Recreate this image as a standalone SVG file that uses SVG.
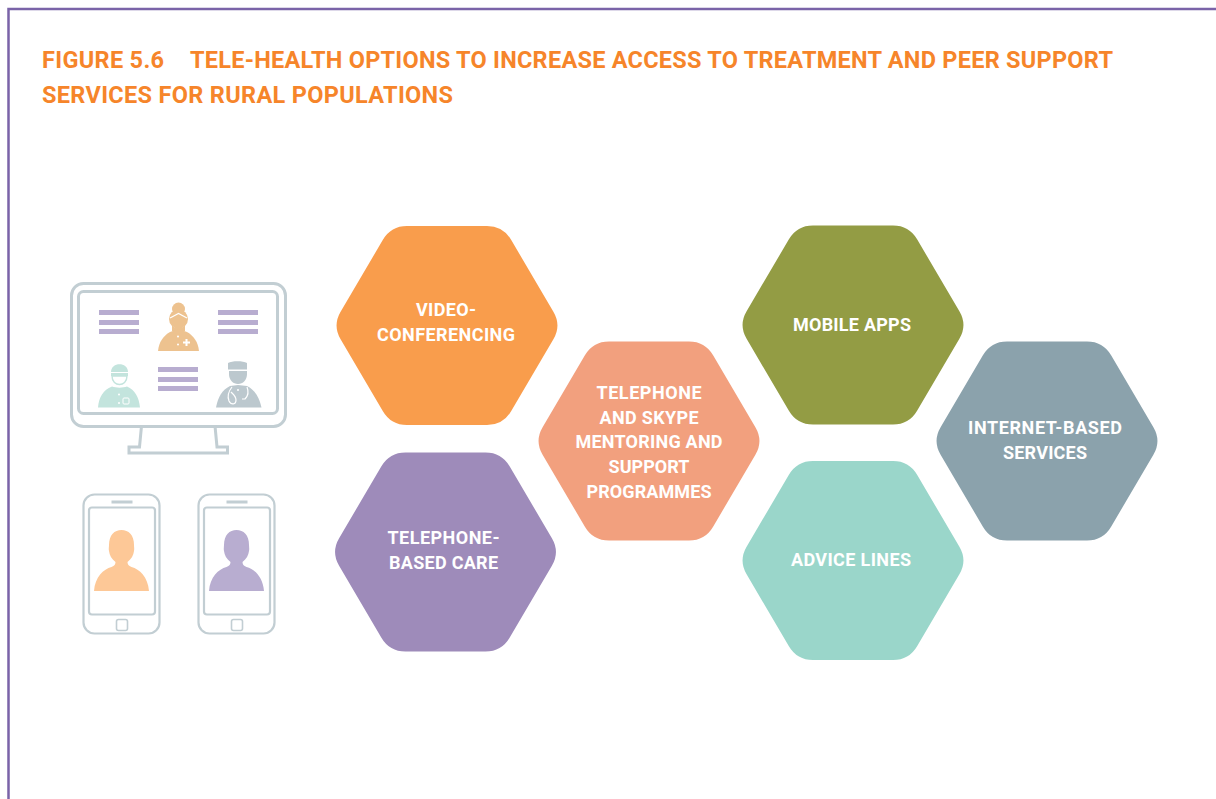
<svg xmlns="http://www.w3.org/2000/svg" width="1216" height="799" viewBox="0 0 1216 799">
<style>
.title{font-family:"Roboto","Liberation Sans",sans-serif;font-weight:700;font-size:23.5px;fill:#F6852A}
.lbl{font-family:"Roboto","Liberation Sans",sans-serif;font-weight:700;font-size:18px;fill:#fff;text-anchor:middle}
.ln{fill:none;stroke:#C2CED3;stroke-width:3}
.ln2{fill:none;stroke:#C2CED3;stroke-width:2.2}
.bar{fill:#B8ADD0}
.det{fill:none;stroke:#fff;stroke-width:1.2}
</style>
<defs>
<path id="hex" d="M-40,-99.5 L40,-99.5 Q56,-99.5 64.1,-85.7 L106.4,-13.8 Q114.5,0 106.4,13.8 L64.1,85.7 Q56,99.5 40,99.5 L-40,99.5 Q-56,99.5 -64.1,85.7 L-106.4,13.8 Q-114.5,0 -106.4,-13.8 L-64.1,-85.7 Q-56,-99.5 -40,-99.5 Z"/>
<g id="bars"><rect class="bar" x="0" y="0" width="40" height="5"/><rect class="bar" x="0" y="10" width="40" height="5"/><rect class="bar" x="0" y="19" width="40" height="5"/></g>
<path id="person" d="M-27.5,0 C-26.5,-14 -18,-22 -10,-24 C-7,-25 -6,-27 -6,-29 C-10,-32 -12,-36 -12.5,-40 C-13,-42 -12.5,-44 -12.5,-46 C-12.5,-56 -7,-61 0,-61 C7,-61 12.5,-56 12.5,-46 C12.5,-44 13,-42 12.5,-40 C12,-36 10,-32 6,-29 C6,-27 7,-25 10,-24 C18,-22 26.5,-14 27.5,0 Z"/>
<g id="phone">
<rect class="ln2" x="0" y="0" width="76" height="139" rx="11"/>
<rect class="ln2" x="5.500" y="13" width="66" height="107" rx="3"/>
<rect x="28" y="6" width="21" height="3" fill="#C2CED3"/>
<rect x="33" y="125" width="11" height="11" rx="2" class="ln2" style="stroke-width:1.6"/>
</g>
</defs>
<rect width="1216" height="799" fill="#fff"/>
<path d="M8.500,799 V9 H1216" fill="none" stroke="#7A63A8" stroke-width="2.500"/>
<g id="title">
<text class="title" x="42" y="68" textLength="122">FIGURE 5.6</text>
<text class="title" x="190" y="68" textLength="923">TELE-HEALTH OPTIONS TO INCREASE ACCESS TO TREATMENT AND PEER SUPPORT</text>
<text class="title" x="42" y="103" textLength="411">SERVICES FOR RURAL POPULATIONS</text>
</g>
<g id="monitor">
<rect class="ln" x="71.500" y="283.500" width="214" height="143" rx="12"/>
<rect class="ln" x="78.500" y="291.500" width="199" height="122" rx="5"/>
<path class="ln" d="M141.500,426 L139.500,447 H129 V453 H227.500 V447 H217 L215,426"/>
<use href="#bars" x="99" y="310"/><use href="#bars" x="218" y="310"/><use href="#bars" x="158" y="367"/>
<g id="nurse">
<circle cx="178.500" cy="309" r="6.500" fill="#EDC28F"/>
<circle cx="178.500" cy="319" r="9.500" fill="#EDC28F"/>
<path d="M172,325 C174,329 183,329 185,325 V331 H172 Z" fill="#EDC28F"/>
<path d="M158,351 C159,342 163,336 170,332 L178.500,329 L187,332 C194,336 198,342 199,351 Z" fill="#EDC28F"/>
<path class="det" d="M170,318 L178.500,313.500 L187,318"/>
<path d="M183,341.500h2.500v-2.500h2v2.500h2.500v2h-2.500v2.500h-2v-2.500h-2.500Z" fill="#fff"/>
<circle cx="178" cy="336.500" r="1" fill="#fff"/><circle cx="178" cy="344.500" r="1" fill="#fff"/>
</g>
<g id="surgeon">
<path d="M111,372 C111,361.500 128,361.500 128,372 Z" fill="#C3E4DD"/>
<path d="M111,373 H128 V376 H111 Z" fill="#C3E4DD"/>
<path d="M112,376 H127 C127,382 123,384.500 119.500,384.500 C116,384.500 112,382 112,376 Z" fill="#fff" stroke="#C3E4DD" stroke-width="1.400"/>
<path d="M98,407.500 C99,397 103,390 112,386.500 C116,388 123,388 127,386.500 C135,390 139,397 140,407.500 Z" fill="#C3E4DD"/>
<rect x="123" y="398" width="6" height="6" rx="1" fill="none" stroke="#fff" stroke-width="1"/>
<circle cx="119" cy="394.500" r="1" fill="#fff"/><circle cx="119" cy="403" r="1" fill="#fff"/>
</g>
<g id="doctor">
<path d="M228,363 C232,360.500 243,360.500 247,363 V369.500 H228 Z" fill="#BCC8CE"/>
<path d="M229,371 H247 V374 C247,380 243,384 238,384 C233,384 229,380 229,374 Z" fill="#BCC8CE"/>
<path d="M216,407.500 C218,397 222,390 230,386 L238,385 L247,386 C255,390 259,397 261.500,407.500 Z" fill="#BCC8CE"/>
<path class="det" d="M232,387 C228,392 227,396 229,401 C231,405 236,405 236,400 C236,396 233,394 231,392 M247,387 C249,392 248,396 245,399 L242,399"/>
<circle cx="238" cy="390" r="1" fill="#fff"/>
</g>
</g>
<g id="phone-left"><use href="#phone" x="83.500" y="494.500"/><use href="#person" x="121.500" y="591" fill="#FDC897"/></g>
<g id="phone-right"><use href="#phone" x="198.500" y="494.500"/><use href="#person" x="236.500" y="591" fill="#B8ADD0"/></g>
<g id="node-video"><use href="#hex" x="447" y="325.500" fill="#F99D4C"/>
<text class="lbl" x="446" y="316" textLength="60">VIDEO-</text><text class="lbl" x="446" y="341" textLength="138">CONFERENCING</text></g>
<g id="node-telephone-care"><use href="#hex" x="445.500" y="552" fill="#9E8BBA"/>
<text class="lbl" x="443.500" y="544" textLength="112">TELEPHONE-</text><text class="lbl" x="443.500" y="569" textLength="109">BASED CARE</text></g>
<g id="node-skype"><use href="#hex" x="649" y="441" fill="#F2A07E"/>
<text class="lbl" x="649" y="399" textLength="105">TELEPHONE</text><text class="lbl" x="649" y="423.500" textLength="99">AND SKYPE</text><text class="lbl" x="649" y="448" textLength="147">MENTORING AND</text><text class="lbl" x="649" y="472.500" textLength="81">SUPPORT</text><text class="lbl" x="649" y="497.500" textLength="125">PROGRAMMES</text></g>
<g id="node-mobile"><use href="#hex" x="853" y="325" fill="#939C44"/>
<text class="lbl" x="852" y="331" textLength="118">MOBILE APPS</text></g>
<g id="node-internet"><use href="#hex" x="1047" y="441" fill="#8BA2AC"/>
<text class="lbl" x="1045" y="434" textLength="154">INTERNET-BASED</text><text class="lbl" x="1045" y="458.500" textLength="84">SERVICES</text></g>
<g id="node-advice"><use href="#hex" x="853" y="560.500" fill="#9AD6CA"/>
<text class="lbl" x="851" y="566" textLength="120">ADVICE LINES</text></g>
</svg>
